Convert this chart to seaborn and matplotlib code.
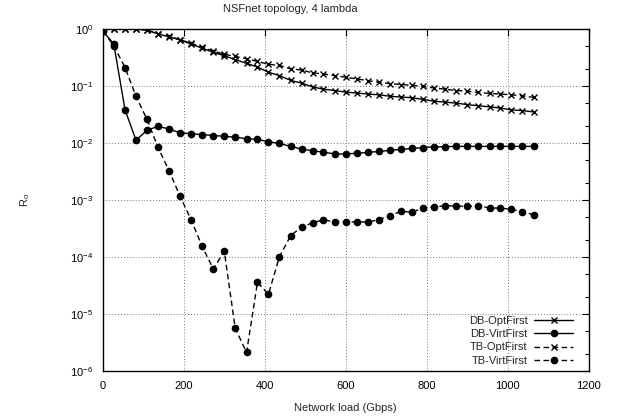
import matplotlib
matplotlib.use("Agg")
import matplotlib.pyplot as plt
import matplotlib.ticker as mticker
import seaborn as sns
import pandas as pd

# load points (Gbps)
load = [0, 27, 55, 82, 109, 136, 164, 191, 218, 245,
        273, 300, 327, 355, 382, 409, 436, 464, 491, 518,
        545, 573, 600, 627, 655, 682, 709, 736, 764, 791,
        818, 845, 873, 900, 927, 955, 982, 1009, 1036, 1064]

db_opt = [1.0, 1.0, 1.0, 1.0, 0.95, 0.82, 0.73, 0.64, 0.545, 0.46,
          0.39, 0.34, 0.29, 0.25, 0.215, 0.174, 0.152, 0.125, 0.112, 0.096,
          0.088, 0.083, 0.078, 0.075, 0.072, 0.070, 0.066, 0.064, 0.062, 0.058,
          0.054, 0.052, 0.050, 0.047, 0.045, 0.043, 0.041, 0.038, 0.037, 0.035]

db_virt = [0.92, 0.55, 0.038, 0.0112, 0.0166, 0.0195, 0.0176, 0.0150, 0.0146, 0.0140,
           0.0135, 0.0131, 0.0126, 0.0119, 0.0115, 0.0105, 0.0098, 0.0087, 0.0078, 0.0073,
           0.0069, 0.0064, 0.0064, 0.0066, 0.0068, 0.0071, 0.0074, 0.0077, 0.0080, 0.0083,
           0.0085, 0.0086, 0.0087, 0.0087, 0.0087, 0.0087, 0.0087, 0.0087, 0.0087, 0.0087]

tb_opt = [1.0, 1.0, 1.0, 1.0, 0.96, 0.83, 0.74, 0.65, 0.56, 0.48,
          0.41, 0.36, 0.33, 0.30, 0.27, 0.24, 0.23, 0.20, 0.19, 0.17,
          0.162, 0.152, 0.142, 0.133, 0.124, 0.116, 0.110, 0.106, 0.103, 0.098,
          0.092, 0.088, 0.083, 0.081, 0.077, 0.074, 0.072, 0.070, 0.067, 0.063]

tb_virt = [0.92, 0.51, 0.21, 0.066, 0.026, 0.0085, 0.0032, 0.00115, 4.5e-4, 1.55e-4,
           6.1e-5, 1.26e-4, 5.6e-6, 2.1e-6, 3.6e-5, 2.2e-5, 1.0e-4, 2.36e-4, 3.36e-4, 3.95e-4,
           4.5e-4, 4.1e-4, 4.1e-4, 4.1e-4, 4.1e-4, 4.5e-4, 5.3e-4, 6.3e-4, 6.1e-4, 7.2e-4,
           7.5e-4, 7.9e-4, 7.8e-4, 7.7e-4, 7.9e-4, 7.2e-4, 7.2e-4, 6.8e-4, 6.2e-4, 5.5e-4]

series_names = ["DB-OptFirst", "DB-VirtFirst", "TB-OptFirst", "TB-VirtFirst"]
series_vals = [db_opt, db_virt, tb_opt, tb_virt]

sns.set_style("white")
plt.rcParams["font.family"] = ["Liberation Sans", "DejaVu Sans"]
plt.rcParams["font.size"] = 8

fig = plt.figure(figsize=(6.23, 4.2), dpi=100)
ax = fig.add_axes([0.165, 0.117, 0.78, 0.814])

markers = {"DB-OptFirst": "x", "DB-VirtFirst": "o", "TB-OptFirst": "x", "TB-VirtFirst": "o"}
styles = {"DB-OptFirst": "-", "DB-VirtFirst": "-",
          "TB-OptFirst": (0, (4, 2.5)), "TB-VirtFirst": (0, (4, 2.5))}

for name, vals in zip(series_names, series_vals):
    d = pd.DataFrame({"load": load, "ro": vals})
    mk = markers[name]
    sns.lineplot(data=d, x="load", y="ro", ax=ax, color="black", label=name,
                 marker=mk, markersize=5 if mk == "x" else 4.5,
                 markeredgecolor="black", markeredgewidth=1,
                 linestyle=styles[name], linewidth=1, sort=False,
                 errorbar=None, legend=False)

ax.set_yscale("log")
ax.set_xlim(0, 1200)
ax.set_ylim(1e-6, 1)
ax.xaxis.set_major_locator(mticker.MultipleLocator(200))
ax.yaxis.set_major_locator(mticker.LogLocator(base=10, numticks=10))
ax.yaxis.set_minor_locator(mticker.LogLocator(base=10, subs=(2, 5), numticks=10))
ax.yaxis.set_minor_formatter(mticker.NullFormatter())

ax.tick_params(which="both", direction="in", top=True, right=True, colors="black",
               labelsize=8, pad=7)
ax.tick_params(which="major", length=5, width=0.8)
ax.tick_params(which="minor", length=3, width=0.8)
for s in ax.spines.values():
    s.set_color("black")
    s.set_linewidth(1)

ax.grid(True, which="major", linestyle=(0, (1, 2)), color="#777777", linewidth=0.7)

ax.set_xlabel("Network load (Gbps)", fontsize=8, labelpad=9)
ax.set_ylabel("R$_\\mathregular{o}$", fontsize=8, labelpad=27)
fig.text(0.466, 0.978, "NSFnet topology, 4 lambda", ha="center", va="center", fontsize=8)

handles, labels = ax.get_legend_handles_labels()
ax.legend(handles, labels, loc="lower right", bbox_to_anchor=(0.968, 0.015),
          frameon=False, markerfirst=False, handlelength=3.5, handletextpad=0.6,
          labelspacing=0.3, borderpad=0, borderaxespad=0, fontsize=8)

fig.savefig("out.png", dpi=100)
